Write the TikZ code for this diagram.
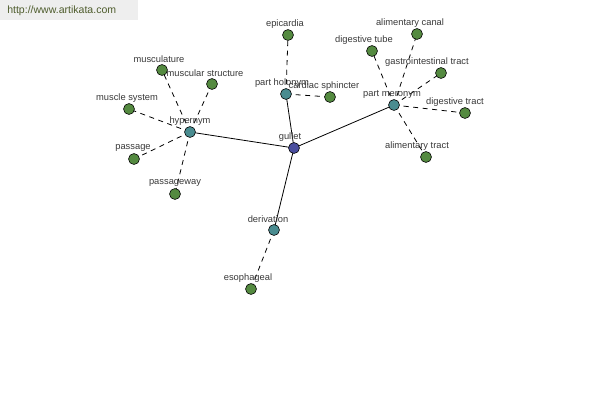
\documentclass[tikz,border=0pt]{standalone}
\usepackage{fontspec}
\setmainfont{Liberation Sans}
\definecolor{leafgreen}{HTML}{548A40}
\definecolor{relteal}{HTML}{4A8C90}
\definecolor{rootblue}{HTML}{4A4E9E}
\definecolor{labelgray}{HTML}{383838}
\definecolor{markgray}{HTML}{EEEEEE}
\definecolor{markolive}{HTML}{4E5C2C}
\tikzset{
  dot/.style={circle,draw=black,line width=0.45pt,inner sep=0pt,minimum size=8.2pt},
  leaf/.style={dot,fill=leafgreen},
  rel/.style={dot,fill=relteal},
  root/.style={dot,fill=rootblue},
  lbl/.style={font=\fontsize{7}{8}\selectfont,text=labelgray,inner sep=0pt},
  solidedge/.style={draw=black,line width=0.6pt},
  dashedge/.style={draw=black,line width=0.6pt,dash pattern=on 3.8pt off 3.4pt}
}
\begin{document}
\begin{tikzpicture}[x=0.75pt,y=-0.75pt]
  \useasboundingbox (0,0) rectangle (600,400);
  \fill[markgray] (0,0) rectangle (138,20);
  \node[font=\fontsize{7.9}{9}\selectfont,text=markolive,anchor=west,inner sep=0pt] (mark) at (7,11) {http://www.artikata.com};

  % centre and relations
  \coordinate (gullet) at (294,148);
  \coordinate (hyp) at (190,132);
  \coordinate (hol) at (286,94);
  \coordinate (mer) at (394,105);
  \coordinate (der) at (274,230);

  % leaves
  \foreach \n/\x/\y in {epi/288/35, card/330/97, alcan/417/34, dtube/372/51,
      gastro/441/73, dtract/465/113, altract/426/157, musc/162/70,
      mstruct/212/84, msys/129/109, pass/134/159, pway/175/194, eso/251/289}
    \coordinate (\n) at (\x,\y);

  % edges
  \foreach \r in {hyp,hol,mer,der}
    \draw[solidedge] (gullet) -- (\r);
  \foreach \r/\l in {hyp/musc,hyp/mstruct,hyp/msys,hyp/pass,hyp/pway,
      hol/epi,hol/card,mer/alcan,mer/dtube,mer/gastro,mer/dtract,mer/altract,der/eso}
    \draw[dashedge] (\r) -- (\l);

  % labels
  \foreach \n/\dx/\t in {gullet/-4/gullet, hyp/0/hypernym, hol/-4/part holonym,
      mer/-2/part meronym, der/-6/derivation, epi/-3/epicardia,
      card/-6/cardiac sphincter, alcan/-7/alimentary canal, dtube/-8/digestive tube,
      gastro/-14/gastrointestinal tract, dtract/-10/digestive tract,
      altract/-9/alimentary tract, musc/-3/musculature, mstruct/-7/muscular structure,
      msys/-2/muscle system, pass/-1/passage, pway/0/passageway, eso/-3/esophageal}
    \node[lbl] at ([shift={(\dx,-11)}]\n) {\t};

  % dots
  \foreach \n in {epi,card,alcan,dtube,gastro,dtract,altract,musc,mstruct,msys,pass,pway,eso}
    \node[leaf] at (\n) {};
  \foreach \n in {hyp,hol,mer,der}
    \node[rel] at (\n) {};
  \node[root] at (gullet) {};
\end{tikzpicture}
\end{document}
